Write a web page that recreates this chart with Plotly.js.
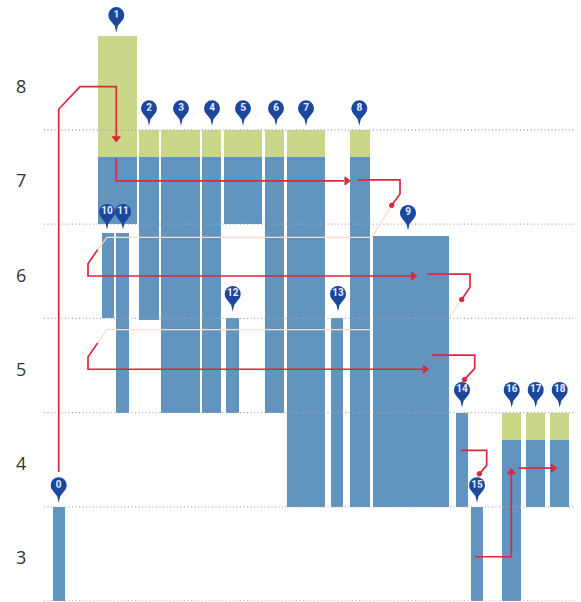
<!DOCTYPE html>
<html><head><meta charset="utf-8">
<script src="https://cdn.plot.ly/plotly-3.0.1.min.js"></script>
<style>html,body{margin:0;padding:0;background:#fff}#c{width:581px;height:602px}</style>
</head><body><div id="c"></div>
<script>
// Blue columns: horizontal extent and level range
const blueLeft  = [52.5, 97.7, 139, 161, 202, 223.5, 264.5, 286.5, 350, 372.5, 101.7, 116, 226, 330.7, 456, 470.7, 502, 525.5, 549.5];
const blueRight = [65, 137, 158.5, 199.5, 221, 262, 284, 325, 369.5, 449, 114, 128.5, 238.5, 343, 468, 482.5, 521, 545, 569];
const blueLow   = [2.5, 6.5, 5.48, 4.5, 4.5, 6.5, 4.5, 3.5, 3.5, 3.5, 5.5, 4.5, 4.5, 3.5, 3.5, 2.5, 2.5, 3.5, 3.5];
const blueHigh  = [3.5, 7.21, 7.21, 7.21, 7.21, 7.21, 7.21, 7.21, 7.21, 6.38, 6.41, 6.41, 5.5, 5.5, 4.5, 3.5, 4.21, 4.21, 4.21];
// Green caps
const greenLeft  = [97.7, 139, 161, 202, 223.5, 264.5, 286.5, 350, 502, 525.5, 549.5];
const greenRight = [137, 158.5, 199.5, 221, 262, 284, 325, 369.5, 521, 545, 569];
const greenLow   = [7.21, 7.21, 7.21, 7.21, 7.21, 7.21, 7.21, 7.21, 4.21, 4.21, 4.21];
const greenHigh  = [8.5, 7.5, 7.5, 7.5, 7.5, 7.5, 7.5, 7.5, 4.5, 4.5, 4.5];
// Pins
const pinLabel = ['0','1','2','3','4','5','6','7','8','9','10','11','12','13','14','15','16','17','18'];
const pinX = [58.7, 116.3, 149, 181, 212, 243, 276, 306, 359.3, 408, 107, 123, 232.7, 338, 462, 477, 511.7, 535.7, 559.7];
const pinY = [3.73, 8.72, 7.73, 7.73, 7.73, 7.73, 7.73, 7.73, 7.73, 6.62, 6.63, 6.63, 5.76, 5.76, 4.74, 3.73, 4.74, 4.74, 4.74];
// Gridlines and axis labels
const gridLevels = [2.5, 3.5, 4.5, 5.5, 6.5, 7.5];
const gridStart = 44, gridEnd = 576;
const levelTicks = [3, 4, 5, 6, 7, 8];
// Faint connectors
const paleX = [371.7, 391.7, null, 97.7, 107, 371.7, null, 97.7, 106.7, 371.7, null, 449.3, 461.7];
const paleY = [6.36, 6.70, null, 6.23, 6.36, 6.36, null, 5.24, 5.38, 5.38, null, 5.51, 5.70];
// Red route
const redX = [58.7, 58.7, 80, 116.3, 116.3, null,
  116.3, 116.3, 344, null,
  357.7, 400, 400, 391.7, null,
  97.7, 88, 88, 411, null,
  427.3, 470, 470, 461.7, null,
  97.7, 88, 88, 423, null,
  432.3, 474.7, 474.7, 464.5, null,
  461, 486.7, 486.7, 479.3, null,
  475, 511.3, 511.3, null,
  518.3, 551];
const redY = [3.87, 7.72, 7.96, 7.96, 7.42, null,
  7.20, 6.96, 6.96, null,
  6.97, 6.97, 6.82, 6.70, null,
  6.23, 6.08, 5.95, 5.95, null,
  5.97, 5.97, 5.83, 5.70, null,
  5.24, 5.09, 4.96, 4.96, null,
  5.11, 5.11, 4.97, 4.85, null,
  4.10, 4.10, 3.94, 3.85, null,
  2.97, 2.97, 3.87, null,
  3.91, 3.91];
const headX = [116.3, 346.7, 391.7, 413.3, 461.7, 425, 464.5, 479.3, 511.3, 553.3];
const headY = [7.41, 6.96, 6.70, 5.95, 5.70, 4.96, 4.85, 3.85, 3.87, 3.91];
const headSymbol = ['triangle-down','triangle-right','circle','triangle-right','circle','triangle-right','circle','circle','triangle-up','triangle-right'];
const headSize = [7, 7, 4.5, 7, 4.5, 7, 4.5, 4.5, 7, 7];

const BLUE = '#6194bf', GREEN = '#c9d789', PIN = '#1b489d', RED = '#d9283f', PALE = '#fbdccf', GRID = '#a9a9a9';

const mid = (a, b) => a.map((v, i) => (v + b[i]) / 2);
const diff = (a, b) => a.map((v, i) => b[i] - v);

const gridX = [], gridY = [];
gridLevels.forEach(l => { gridX.push(gridStart, gridEnd, null); gridY.push(l, l, null); });

const traces = [
  {type:'scatter', mode:'lines', x:gridX, y:gridY, cliponaxis:false, line:{color:GRID, width:1.3, dash:'1px 2.5px'}, hoverinfo:'skip'},
  {type:'scatter', mode:'lines', x:paleX, y:paleY, line:{color:PALE, width:1.2}, hoverinfo:'skip'},
  {type:'bar', x:mid(blueLeft, blueRight), width:diff(blueLeft, blueRight), base:blueLow, y:diff(blueLow, blueHigh), marker:{color:BLUE}},
  {type:'bar', x:mid(greenLeft, greenRight), width:diff(greenLeft, greenRight), base:greenLow, y:diff(greenLow, greenHigh), marker:{color:GREEN}},
  {type:'scatter', mode:'lines', x:redX, y:redY, line:{color:RED, width:1.7}, hoverinfo:'skip'},
  {type:'scatter', mode:'markers', x:headX, y:headY, marker:{color:RED, opacity:1, symbol:headSymbol, size:headSize, line:{color:RED, width:1}}, hoverinfo:'skip'},
  {type:'scatter', mode:'markers+text', x:pinX, y:pinY, text:pinLabel, textposition:'middle center',
   textfont:{family:'Roboto, sans-serif', size:10, color:'#e8effa', weight:700},
   marker:{color:PIN, size:16}, hoverinfo:'skip'}
];

const shapes = pinX.map((x, i) => ({
  type:'path', xref:'x', yref:'y', xsizemode:'pixel', ysizemode:'pixel', xanchor:x, yanchor:pinY[i],
  path:'M -7.6 -2.5 Q -5 -7 -1.5 -11 L 0 -17.5 L 1.5 -11 Q 5 -7 7.6 -2.5 Z',
  fillcolor:PIN, line:{width:0}
}));

const layout = {
  width:581, height:602, showlegend:false, paper_bgcolor:'#fff', plot_bgcolor:'#fff',
  margin:{l:44, r:0, t:0, b:1, pad:0}, barmode:'overlay', bargap:0,
  xaxis:{range:[44, 581], visible:false, fixedrange:true},
  yaxis:{range:[2.5, 8.88], tickmode:'array', tickvals:levelTicks, ticktext:levelTicks.map(String),
    showgrid:false, zeroline:false, showline:false, ticks:'outside', ticklen:13, tickcolor:'rgba(0,0,0,0)',
    ticklabelshift:4,
    tickfont:{family:'"Open Sans", sans-serif', size:18, color:'#333'}, fixedrange:true},
  shapes
};
Plotly.newPlot('c', traces, layout, {displayModeBar:false, staticPlot:true});
</script></body></html>
